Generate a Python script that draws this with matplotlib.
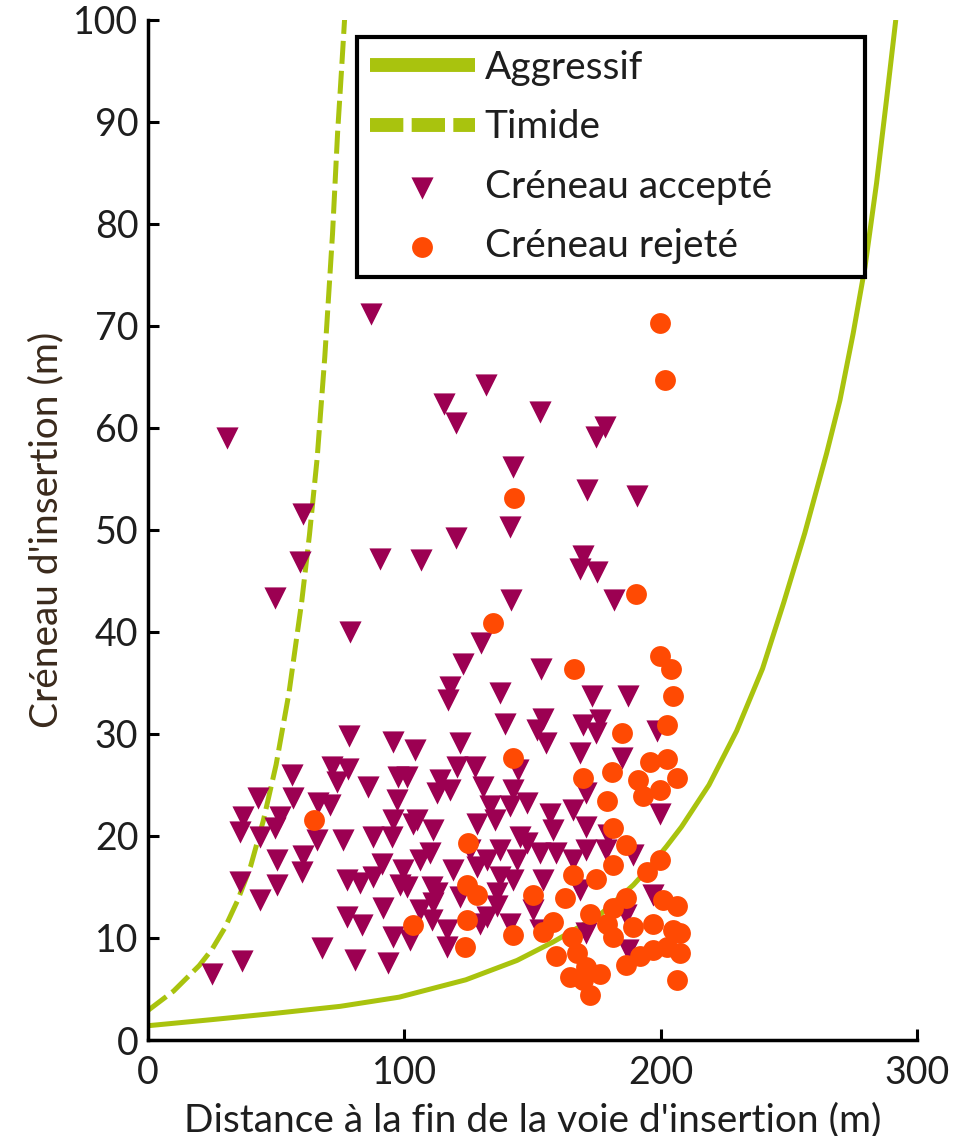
import matplotlib
matplotlib.use("Agg")
import matplotlib.pyplot as plt

plt.rcParams['font.family'] = ['Lato', 'DejaVu Sans']

# ---- data ----
aggr_x = [0, 25, 49, 75, 98, 124, 144, 158, 176, 189.4, 195.9, 202.4, 208.2,
          218.9, 229.7, 239.8, 248.1, 256.3, 264.8, 270, 275.2, 279.8, 284.3,
          288.2, 291.8]
aggr_y = [1.4, 2.0, 2.6, 3.3, 4.2, 5.9, 7.8, 9.6, 12.2, 15.2, 17.0, 19.0, 20.9,
          25.0, 30.3, 36.4, 42.9, 49.7, 57.5, 62.7, 69.3, 75.8, 84.0,
          92.2, 100]

tim_x = [0, 10, 20, 25, 30, 35, 40, 45, 50, 55, 60, 63, 66, 69, 72, 74, 75.5,
         76.7]
tim_y = [2.9, 4.8, 7.3, 8.9, 11.0, 13.7, 17.0, 21.5, 27.0, 34.0, 43.0, 49.5,
         57.0, 67.0, 79.0, 89.0, 95.0, 100]

acc_x = [87.2, 132.0, 115.6, 120.1, 153.0, 178.5, 175.0, 30.9, 142.5, 171.2,
         190.8, 60.6, 141.1, 120.1, 59.2, 90.4, 106.5, 169.8, 168.4, 175.4,
         49.4, 181.7, 141.8, 78.8, 129.9, 122.9, 153.5,
         78.6, 95.7, 104.2, 56.1, 71.7, 78.2, 73.6, 86.0, 97.7, 43.0, 56.7,
         66.4, 71.0, 97.0, 37.2, 51.5, 95.7, 104.8, 35.9, 43.7, 49.6, 65.8,
         76.2, 87.9, 95.1,
         50.2, 60.6, 35.9, 50.2, 60.0, 43.7, 77.5, 82.7, 87.9, 91.2, 98.3,
         77.5, 83.4, 91.8, 95.7, 67.8, 80.8, 93.8, 36.6, 24.8,
         117.8, 117.2, 137.3, 173.1, 187.4, 139.3, 154.2, 151.7, 155.5, 169.8,
         176.4, 175.0, 198.5, 121.7, 168.5, 184.8, 113.9, 112.6, 117.8, 127.6,
         130.8, 144.5, 142.5, 100.9, 111.3, 133.4, 135.4, 128.2, 141.2, 147.8,
         156.8, 165.9, 171.1, 158.1, 145.1, 171.1, 199.8, 179.6, 189.4, 187.4,
         110.0, 110.7, 111.3, 110.7, 116.5, 102.2, 132.1, 137.3, 136.0, 129.5,
         119.1, 143.8, 154.2, 159.4, 165.9, 171.1, 147.8, 150.3, 168.5, 171.1,
         186.7, 197.2, 152.9, 141.2, 116.5, 106.1, 100.9, 106.1, 125.6, 137.3,
         178.9,
         103.5, 152.9, 128.2, 112.6, 136.0, 142.5, 132.1, 99.6, 120.4, 121.7]
acc_y = [71.2, 64.2, 62.3, 60.5, 61.6, 60.1, 59.1, 59.0, 56.2, 53.9,
         53.3, 51.6, 50.3, 49.2, 46.9, 47.2, 47.1, 47.4, 46.2, 45.9,
         43.3, 43.1, 43.1, 40.0, 38.9, 36.9, 36.4,
         29.8, 29.2, 28.4, 26.0, 26.8, 26.6, 25.3, 24.8, 25.8, 23.7, 23.7,
         23.2, 23.0, 23.5, 21.9, 21.9, 21.6, 21.6, 20.4, 19.9, 20.8, 19.6,
         19.6, 19.9, 19.9,
         17.6, 18.0, 15.5, 15.2, 16.5, 13.7, 15.7, 15.4, 16.0, 17.3, 15.2,
         12.1, 11.3, 12.9, 10.1, 9.0, 7.8, 7.5, 7.7, 6.5,
         34.6, 33.3, 34.0, 33.7, 33.7, 31.0, 31.5, 30.4, 29.1, 30.9,
         31.4, 30.1, 30.3, 29.1, 28.1, 27.6, 25.5, 24.2, 24.5, 26.8,
         24.8, 26.5, 24.5, 25.8, 20.6, 22.9, 21.6, 21.2, 22.9, 23.2,
         22.2, 22.5, 24.2, 20.6, 19.9, 20.9, 22.2, 20.1, 18.1, 8.8,
         18.3, 15.0, 13.4, 11.8, 9.1, 9.8, 17.6, 16.0, 13.1, 11.4,
         16.7, 17.6, 15.7, 18.3, 17.6, 18.6, 19.3, 12.7, 14.7, 10.5,
         12.3, 14.2, 10.8, 11.4, 10.8, 12.7, 15.0, 17.6, 18.6, 18.6,
         18.6,
         21.2, 18.3, 17.0, 14.4, 14.4, 15.7, 12.1, 16.7, 26.8, 14.0]

rej_x = [199.7, 201.6, 143.0, 190.4, 134.8, 166.1, 199.7, 203.9, 64.8, 103.5,
         205.0, 184.8, 202.4, 142.5, 169.8, 180.9, 191.3, 195.9, 202.4, 206.3,
         193.3, 199.8, 179.0, 181.6, 125.0, 186.7,
         181.6, 199.8, 194.6, 165.9, 175.0, 124.3, 128.2, 150.3, 162.7, 186.7,
         201.1, 206.3, 172.5, 181.6, 158.1, 124.3, 154.3, 142.5, 165.3, 181.6,
         189.4, 197.2, 205.0, 207.6, 123.7, 159.4, 167.3, 176.4, 164.7, 169.8,
         172.5, 186.7, 192.0, 197.2, 202.4, 207.6, 206.3, 171.1, 179.0]
rej_y = [70.3, 64.7, 53.1, 43.7, 40.9, 36.4, 37.6, 36.4, 21.6, 11.3,
         33.7, 30.1, 30.9, 27.6, 25.7, 26.3, 25.5, 27.3, 27.5, 25.7,
         23.9, 24.5, 23.4, 20.8, 19.3, 19.1,
         17.2, 17.6, 16.5, 16.2, 15.8, 15.2, 14.2, 14.2, 13.9, 13.9,
         13.7, 13.1, 12.4, 12.9, 11.6, 11.8, 10.6, 10.3, 10.1, 10.1,
         11.1, 11.4, 10.8, 10.5, 9.1, 8.2, 8.5, 6.5, 6.2, 5.9,
         4.4, 7.4, 8.2, 8.8, 9.1, 8.5, 5.9, 7.2, 11.4]

x_ticks = [0, 100, 200, 300]
y_ticks = [0, 10, 20, 30, 40, 50, 60, 70, 80, 90, 100]

labels = ["Aggressif", "Timide", "Créneau accepté", "Créneau rejeté"]
x_label = "Distance à la fin de la voie d'insertion (m)"
y_label = "Créneau d'insertion (m)"

GREEN = '#A9C30E'
PURPLE = '#9C0052'
ORANGE = '#FF4A03'
TXT = '#1e1e1e'

fig = plt.figure(figsize=(9.61, 11.36), dpi=100)
ax = fig.add_axes([0.154, 0.0845, 0.800, 0.898])

l1, = ax.plot(aggr_x, aggr_y, color=GREEN, lw=3.6, solid_capstyle='butt',
              solid_joinstyle='round', zorder=2, label=labels[0])
l2, = ax.plot(tim_x, tim_y, color=GREEN, lw=3.6, linestyle=(0, (4.6, 1.4)),
              dash_joinstyle='round', zorder=2, label=labels[1])
s1 = ax.scatter(acc_x, acc_y, marker='v', s=255, color=PURPLE, linewidths=0,
                zorder=3, label=labels[2])
s2 = ax.scatter(rej_x, rej_y, marker='o', s=225, color=ORANGE, linewidths=0,
                zorder=4, label=labels[3])

ax.set_xlim(0, 300)
ax.set_ylim(0, 100)
ax.set_xticks(x_ticks)
ax.set_yticks(y_ticks)
for sp in ['top', 'right']:
    ax.spines[sp].set_visible(False)
for sp in ['left', 'bottom']:
    ax.spines[sp].set_linewidth(2.5)
    ax.spines[sp].set_color('black')
ax.tick_params(direction='in', length=8, width=2.2, labelsize=27,
               labelcolor=TXT)
ax.tick_params(axis='y', pad=7)
ax.tick_params(axis='x', pad=11)

ax.set_xlabel(x_label, fontsize=28, color=TXT, va='baseline')
ax.xaxis.set_label_coords(0.5, -0.089)
ax.set_ylabel(y_label, fontsize=28, color='#3a2a1c')
ax.yaxis.set_label_coords(-0.109, 0.5)

leg = ax.legend(handles=[l1, l2, s1, s2], labels=labels,
                loc='upper left', bbox_to_anchor=(0.272, 0.983, 0.66, 0.0),
                mode='expand', borderaxespad=0, fontsize=28,
                handlelength=2.7, handletextpad=0.25, labelspacing=0.6,
                borderpad=0.33, fancybox=False, framealpha=1,
                edgecolor='black', scatterpoints=1)
leg.get_frame().set_linewidth(3)
for t in leg.get_texts():
    t.set_color(TXT)
hl = leg.legend_handles
hl[0].set_linewidth(10)
hl[1].set_linewidth(10)
hl[1].set_linestyle((0, (2.4, 0.6)))

fig.savefig('out.png', dpi=100)
